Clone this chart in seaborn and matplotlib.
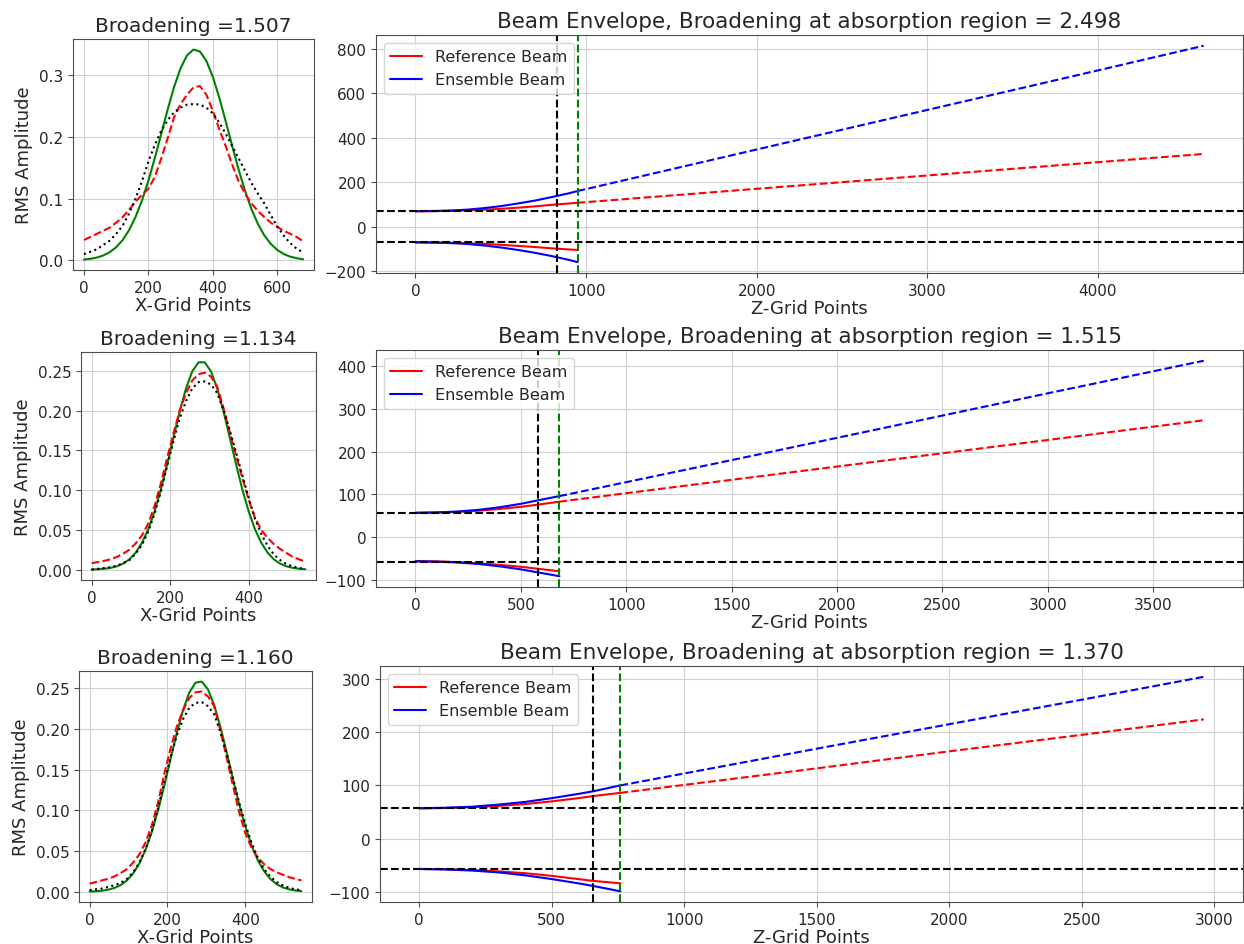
"""RMS amplitude profiles and beam envelopes for three absorption runs."""
import matplotlib
matplotlib.use("Agg")
import matplotlib.pyplot as plt
import seaborn as sns

# ---- row 1 ----------------------------------------------------------------
X_GRID_1 = [0, 20, 40, 60, 80, 100, 120, 140, 160, 180, 200, 220, 240, 260, 280, 300, 320, 340,
            360, 380, 400, 420, 440, 460, 480, 500, 520, 540, 560, 580, 600, 620, 640, 660, 680]
TARGET_1 = [0.0014, 0.0026, 0.0046, 0.0080, 0.0133, 0.0213, 0.0329, 0.0489, 0.0702, 0.0970,
            0.129, 0.1658, 0.205, 0.2445, 0.281, 0.311, 0.3318, 0.3411, 0.338, 0.3227,
            0.297, 0.2633, 0.225, 0.1853, 0.147, 0.1125, 0.0829, 0.0589, 0.0403, 0.0266,
            0.0169, 0.0104, 0.0061, 0.0035, 0.0019]
REF_PROFILE_1 = [0.033, 0.038, 0.043, 0.048, 0.053, 0.061, 0.070, 0.082, 0.095, 0.106,
                 0.116, 0.135, 0.165, 0.198, 0.232, 0.253, 0.268, 0.280, 0.282, 0.268,
                 0.242, 0.212, 0.185, 0.155, 0.128, 0.108, 0.092, 0.080, 0.070, 0.061,
                 0.054, 0.048, 0.043, 0.038, 0.031]
ENS_PROFILE_1 = [0.010, 0.014, 0.018, 0.025, 0.032, 0.043, 0.056, 0.076, 0.100, 0.128,
                 0.160, 0.187, 0.210, 0.227, 0.240, 0.247, 0.252, 0.253, 0.252, 0.247,
                 0.238, 0.223, 0.205, 0.185, 0.165, 0.145, 0.125, 0.108, 0.092, 0.073,
                 0.055, 0.040, 0.028, 0.019, 0.013]
BROADENING_1 = "1.507"

Z_SOLID_1 = [0, 100, 200, 300, 400, 500, 600, 700, 800, 900, 950]
REF_UP_1 = [70, 70.5, 72, 74, 77, 81, 86, 92, 99, 105, 108]
ENS_UP_1 = [70, 71, 73, 77, 84, 93, 105, 118, 134, 151, 161]
REF_LO_1 = [-70, -70.5, -72, -74, -77, -81, -86, -91, -97, -102, -104]
ENS_LO_1 = [-70, -71, -73, -77, -84, -93, -104, -117, -132, -149, -159]
Z_DASH_1 = [950, 2000, 3000, 4000, 4620]
REF_DASH_1 = [108, 171, 231, 291, 328]
ENS_DASH_1 = [161, 348, 526, 704, 815]
W0_1 = 70
Z_ABS_1 = 830
Z_END_1 = 950
ABSORPTION_1 = "2.498"

# ---- row 2 ----------------------------------------------------------------
X_GRID_2 = [0, 16, 32, 48, 64, 80, 96, 112, 128, 144, 160, 176, 192, 208, 224, 240, 256, 272,
            288, 304, 320, 336, 352, 368, 384, 400, 416, 432, 448, 464, 480, 496, 512, 528, 544]
TARGET_2 = [0.0002, 0.0005, 0.0011, 0.0022, 0.0042, 0.0075, 0.0129, 0.0214, 0.0337, 0.0507,
            0.0730, 0.1004, 0.1319, 0.1656, 0.1986, 0.2277, 0.2494, 0.2610, 0.2610, 0.2494,
            0.2277, 0.1986, 0.1656, 0.1319, 0.1004, 0.0730, 0.0507, 0.0337, 0.0214, 0.0129,
            0.0075, 0.0042, 0.0022, 0.0011, 0.0005]
REF_PROFILE_2 = [0.008, 0.0095, 0.011, 0.013, 0.016, 0.020, 0.025, 0.033, 0.043, 0.058,
                 0.080, 0.108, 0.140, 0.171, 0.200, 0.222, 0.238, 0.246, 0.248, 0.243,
                 0.230, 0.203, 0.172, 0.143, 0.115, 0.088, 0.065, 0.050, 0.040, 0.032,
                 0.026, 0.021, 0.016, 0.013, 0.010]
ENS_PROFILE_2 = [0.000, 0.001, 0.002, 0.003, 0.005, 0.008, 0.012, 0.020, 0.031, 0.048,
                 0.070, 0.098, 0.130, 0.161, 0.190, 0.212, 0.228, 0.236, 0.237, 0.233,
                 0.222, 0.201, 0.175, 0.147, 0.118, 0.090, 0.064, 0.045, 0.030, 0.019,
                 0.012, 0.007, 0.004, 0.002, 0.001]
BROADENING_2 = "1.134"

Z_SOLID_2 = [0, 100, 200, 300, 400, 500, 580, 683]
REF_UP_2 = [57, 57.5, 59, 62, 66, 71, 76, 83]
ENS_UP_2 = [57, 58, 60, 64, 70, 78, 86, 96]
REF_LO_2 = [-56, -56.5, -58, -61, -64.5, -69, -73.5, -79.5]
ENS_LO_2 = [-56, -57, -59, -62.5, -68, -75, -82, -91]
Z_DASH_2 = [683, 1500, 2500, 3000, 3740]
REF_DASH_2 = [83, 134, 196, 227, 273]
ENS_DASH_2 = [96, 180, 284, 336, 412]
W0_2 = 57
Z_ABS_2 = 580
Z_END_2 = 683
ABSORPTION_2 = "1.515"

# ---- row 3 ----------------------------------------------------------------
X_GRID_3 = [0, 16, 32, 48, 64, 80, 96, 112, 128, 144, 160, 176, 192, 208, 224, 240, 256, 272,
            288, 304, 320, 336, 352, 368, 384, 400, 416, 432, 448, 464, 480, 496, 512, 528, 544]
TARGET_3 = [0.0003, 0.0007, 0.0013, 0.0026, 0.0047, 0.0083, 0.0140, 0.0226, 0.0350, 0.0520,
            0.0738, 0.1004, 0.1308, 0.1632, 0.1950, 0.2232, 0.2447, 0.2568, 0.2582, 0.2486,
            0.2293, 0.2025, 0.1713, 0.1388, 0.1077, 0.0801, 0.0570, 0.0388, 0.0254, 0.0158,
            0.0095, 0.0054, 0.0030, 0.0016, 0.0008]
REF_PROFILE_3 = [0.010, 0.012, 0.014, 0.016, 0.019, 0.023, 0.028, 0.036, 0.046, 0.061,
                 0.082, 0.110, 0.145, 0.176, 0.203, 0.223, 0.238, 0.245, 0.246, 0.240,
                 0.228, 0.198, 0.165, 0.131, 0.098, 0.072, 0.054, 0.042, 0.034, 0.028,
                 0.024, 0.021, 0.018, 0.016, 0.014]
ENS_PROFILE_3 = [0.002, 0.003, 0.004, 0.006, 0.008, 0.011, 0.016, 0.024, 0.036, 0.053,
                 0.075, 0.103, 0.135, 0.165, 0.192, 0.212, 0.226, 0.232, 0.233, 0.228,
                 0.218, 0.196, 0.170, 0.140, 0.110, 0.083, 0.060, 0.042, 0.028, 0.019,
                 0.012, 0.008, 0.005, 0.003, 0.002]
BROADENING_3 = "1.160"

Z_SOLID_3 = [0, 100, 200, 300, 400, 500, 600, 657, 759]
REF_UP_3 = [57, 57.5, 59, 61.5, 65, 70, 76, 80, 86]
ENS_UP_3 = [57, 58, 60, 64, 69, 76, 84, 89, 100]
REF_LO_3 = [-57, -57.5, -59, -61.5, -65, -70, -76, -79.5, -84]
ENS_LO_3 = [-57, -58, -60, -63.5, -69, -76, -84, -89, -99]
Z_DASH_3 = [759, 1500, 2000, 2500, 2960]
REF_DASH_3 = [86, 132, 164, 195, 224]
ENS_DASH_3 = [100, 169, 215, 261, 304]
W0_3 = 57
Z_ABS_3 = 657
Z_END_3 = 759
ABSORPTION_3 = "1.370"

# axes rectangles in figure fractions: (profile, envelope) per row
LAYOUT = [
    ([0.0587, 0.7132, 0.1937, 0.2444], [0.3023, 0.7101, 0.6970, 0.2519]),
    ([0.0651, 0.3852, 0.1889, 0.2413], [0.3023, 0.3778, 0.6970, 0.2508]),
    ([0.0635, 0.0444, 0.1873, 0.2444], [0.3055, 0.0444, 0.6937, 0.2497]),
]

sns.set_style("whitegrid", {"axes.edgecolor": ".3", "grid.color": ".82",
                            "xtick.bottom": True, "ytick.left": True})
plt.rcParams["font.family"] = ["DejaVu Sans"]


def plot_profile(ax, x, target, ref, ens, broadening):
    """Perfil RMS transversal: alvo (verde), referencia (vermelho) e ensemble (preto)."""
    sns.lineplot(x=x, y=target, color="g", linewidth=1.5, ax=ax)
    sns.lineplot(x=x, y=ref, color="r", linestyle="--", linewidth=1.5, ax=ax)
    sns.lineplot(x=x, y=ens, color="k", linestyle=":", linewidth=1.5, ax=ax)
    ax.set_title(f"Broadening ={broadening}", fontsize=14.5)
    ax.set_xlabel("X-Grid Points", fontsize=13, labelpad=1)
    ax.set_ylabel("RMS Amplitude", fontsize=13)
    ax.tick_params(labelsize=11, length=3.5, color=".3")


def plot_envelope(ax, z, ref_up, ens_up, ref_lo, ens_lo, z_dash, ref_dash, ens_dash,
                  w0, z_abs, z_end, absorption):
    """Envelope do feixe com extrapolacao linear (tracejada) apos a regiao de absorcao."""
    sns.lineplot(x=z, y=ref_up, color="r", linewidth=1.5, label="Reference Beam", ax=ax)
    sns.lineplot(x=z, y=ens_up, color="b", linewidth=1.5, label="Ensemble Beam", ax=ax)
    sns.lineplot(x=z, y=ref_lo, color="r", linewidth=1.5, ax=ax)
    sns.lineplot(x=z, y=ens_lo, color="b", linewidth=1.5, ax=ax)
    sns.lineplot(x=z_dash, y=ref_dash, color="r", linestyle="--", linewidth=1.5, ax=ax)
    sns.lineplot(x=z_dash, y=ens_dash, color="b", linestyle="--", linewidth=1.5, ax=ax)
    ax.axhline(w0, color="k", linestyle="--", linewidth=1.5)
    ax.axhline(-w0, color="k", linestyle="--", linewidth=1.5)
    ax.axvline(z_abs, color="k", linestyle="--", linewidth=1.5)
    ax.axvline(z_end, color="g", linestyle="--", linewidth=1.5)
    ax.set_title(f"Beam Envelope, Broadening at absorption region = {absorption}", fontsize=15.5)
    ax.set_xlabel("Z-Grid Points", fontsize=13, labelpad=1)
    ax.set_ylabel("")
    ax.tick_params(labelsize=11, length=3.5, color=".3")
    ax.legend(loc="upper left", fontsize=11.5)


rows = [
    (X_GRID_1, TARGET_1, REF_PROFILE_1, ENS_PROFILE_1, BROADENING_1,
     Z_SOLID_1, REF_UP_1, ENS_UP_1, REF_LO_1, ENS_LO_1, Z_DASH_1, REF_DASH_1, ENS_DASH_1,
     W0_1, Z_ABS_1, Z_END_1, ABSORPTION_1),
    (X_GRID_2, TARGET_2, REF_PROFILE_2, ENS_PROFILE_2, BROADENING_2,
     Z_SOLID_2, REF_UP_2, ENS_UP_2, REF_LO_2, ENS_LO_2, Z_DASH_2, REF_DASH_2, ENS_DASH_2,
     W0_2, Z_ABS_2, Z_END_2, ABSORPTION_2),
    (X_GRID_3, TARGET_3, REF_PROFILE_3, ENS_PROFILE_3, BROADENING_3,
     Z_SOLID_3, REF_UP_3, ENS_UP_3, REF_LO_3, ENS_LO_3, Z_DASH_3, REF_DASH_3, ENS_DASH_3,
     W0_3, Z_ABS_3, Z_END_3, ABSORPTION_3),
]

fig = plt.figure(figsize=(12.44, 9.45), dpi=100)
for (left_rect, right_rect), row in zip(LAYOUT, rows):
    ax_p = fig.add_axes(left_rect)
    ax_e = fig.add_axes(right_rect)
    plot_profile(ax_p, *row[:5])
    plot_envelope(ax_e, *row[5:])

fig.savefig("out.png", dpi=100)
